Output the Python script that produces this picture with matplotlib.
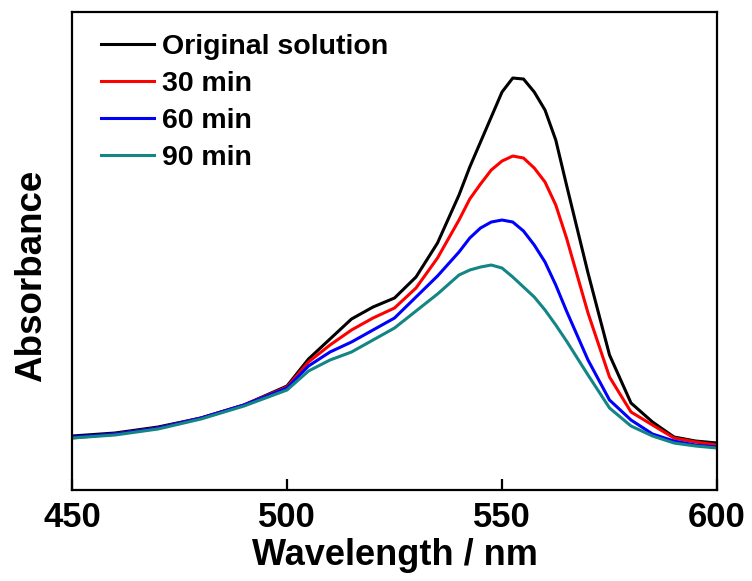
import numpy as np
import matplotlib
matplotlib.use("Agg")
import matplotlib.pyplot as plt

# Wavelength grid (nm) and absorbance
wavelength = [450, 460, 470, 480, 490, 500, 505, 510, 515, 520, 525, 530, 535,
              540, 542.5, 545, 547.5, 550, 552.5, 555, 557.5, 560, 562.5, 565,
              570, 575, 580, 585, 590, 595, 600]

original = [0.054, 0.057, 0.063, 0.072, 0.085, 0.104, 0.131, 0.151, 0.171, 0.183,
            0.192, 0.213, 0.247, 0.295, 0.323, 0.348, 0.373, 0.398, 0.412, 0.411,
            0.398, 0.380, 0.350, 0.305, 0.217, 0.135, 0.087, 0.068, 0.053, 0.049, 0.047]
min30 = [0.052, 0.056, 0.062, 0.072, 0.085, 0.103, 0.128, 0.145, 0.160, 0.172,
         0.182, 0.202, 0.232, 0.270, 0.291, 0.306, 0.320, 0.329, 0.334, 0.332,
         0.322, 0.308, 0.285, 0.252, 0.177, 0.113, 0.078, 0.065, 0.052, 0.048, 0.045]
min60 = [0.053, 0.056, 0.062, 0.072, 0.085, 0.102, 0.124, 0.138, 0.148, 0.160,
         0.172, 0.193, 0.214, 0.238, 0.252, 0.262, 0.268, 0.270, 0.268, 0.259,
         0.245, 0.228, 0.205, 0.179, 0.130, 0.090, 0.070, 0.056, 0.049, 0.045, 0.043]
min90 = [0.052, 0.055, 0.061, 0.071, 0.084, 0.100, 0.119, 0.130, 0.138, 0.150,
         0.162, 0.179, 0.196, 0.215, 0.220, 0.223, 0.225, 0.222, 0.213, 0.203,
         0.193, 0.180, 0.165, 0.149, 0.115, 0.082, 0.064, 0.054, 0.047, 0.044, 0.042]

labels = ["Original solution", "30 min", "60 min", "90 min"]
colors = ["#000000", "#ff0000", "#0000ff", "#138585"]

plt.rcParams["font.family"] = ["Liberation Sans", "DejaVu Sans"]
plt.rcParams["font.weight"] = "bold"

fig = plt.figure(figsize=(7.52, 5.81), dpi=100)
ax = fig.add_axes([0.0957, 0.1566, 0.8578, 0.8227])

for series, lab, col in zip([original, min30, min60, min90], labels, colors):
    ax.plot(wavelength, series, color=col, lw=2.2, label=lab,
            solid_joinstyle="round")

ax.set_xlim(450, 600)
ax.set_ylim(0, 0.478)
ax.set_xticks([450, 500, 550, 600])
ax.set_yticks([])
ax.tick_params(axis="x", direction="in", length=8, width=1.6, labelsize=25, pad=8)
for sp in ax.spines.values():
    sp.set_linewidth(1.6)

ax.set_xlabel("Wavelength / nm", fontsize=26, fontweight="bold")
ax.xaxis.set_label_coords(0.5, -0.1)
ax.set_ylabel("Absorbance", fontsize=26.5, fontweight="bold")
ax.yaxis.set_label_coords(-0.035, 0.448)

leg = ax.legend(loc="upper left", frameon=False, fontsize=20.5,
                handlelength=1.86, handletextpad=0.28, labelspacing=0.385,
                borderaxespad=0.0, borderpad=0.0, bbox_to_anchor=(0.045, 0.954))
for t in leg.get_texts():
    t.set_fontweight("bold")

fig.savefig("out.png", dpi=100)
